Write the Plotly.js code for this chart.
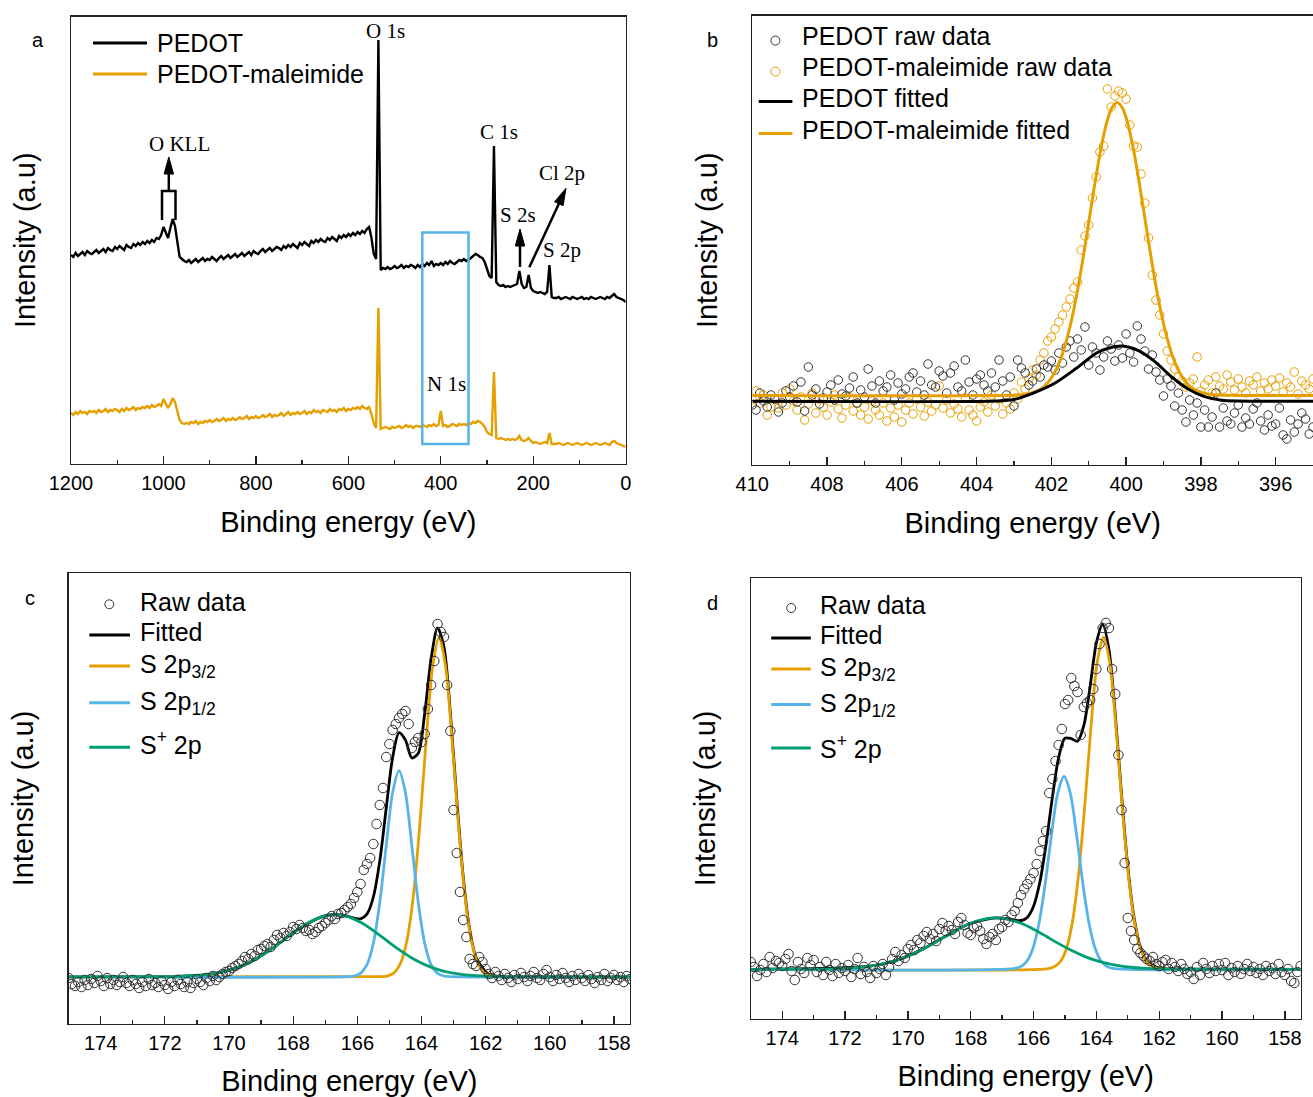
<!DOCTYPE html>
<html><head><meta charset="utf-8">
<script src="https://cdn.plot.ly/plotly-3.0.1.min.js"></script>
<style>html,body{margin:0;padding:0;background:#fff;}#chart{width:1313px;height:1097px;}</style>
</head><body><div id="chart"></div>
<script>
// ---------- Panel a : survey spectra (BE grid 1200 -> 0 eV, step 5 eV) ----------
const aGridStart = 1200, aGridStop = 0, aGridStep = 5;
const aPEDOT = [
209,207,211,208,210,212,209,213,211,210,
212,214,211,213,215,212,216,214,213,217,
215,218,216,214,219,217,216,220,218,221,
219,222,220,223,221,224,222,226,225,229,
237,231,226,236,245,238,220,207,205,203,
202,204,201,203,205,202,204,206,203,205,
204,207,205,203,206,208,205,207,209,206,
208,210,207,209,211,208,210,212,209,213,
211,210,213,215,212,214,216,213,215,217,
216,214,218,216,219,217,220,218,216,221,
219,222,220,218,223,221,224,222,225,223,
222,226,224,227,225,223,228,226,229,227,
230,228,231,229,232,230,233,231,235,237,
226,210,205,424,194,196,195,197,195,196,
198,196,197,199,196,198,197,199,198,196,
199,197,200,198,201,199,203,198,200,199,
201,199,202,200,203,201,200,202,204,203,
205,203,204,206,208,210,209,207,206,202,
195,188,186,318,182,179,178,179,177,178,
177,178,179,180,193,180,176,177,189,176,
173,172,171,172,171,170,172,199,167,166,
166,167,165,166,167,166,165,167,166,165,
166,167,165,166,165,167,166,165,166,167,
166,165,167,166,168,170,167,166,165,164,
162];
const aMaleimide = [
51,49,52,50,53,51,52,50,53,52,
53,51,54,52,53,55,52,54,53,55,
54,52,55,53,56,54,55,57,54,56,
55,57,56,58,56,59,57,58,60,58,
65,61,56,60,66,62,52,44,41,40,
41,40,42,41,43,40,42,41,43,42,
44,42,43,45,43,44,46,43,45,44,
46,44,45,47,45,46,48,45,47,46,
48,46,47,49,47,48,50,47,49,48,
49,51,48,50,52,49,51,50,52,50,
51,53,50,52,51,54,52,53,51,54,
53,52,55,53,54,52,55,54,56,53,
55,54,56,55,57,55,58,56,55,57,
50,41,36,156,35,36,37,36,35,37,
36,37,38,36,37,39,37,38,36,38,
38,37,39,38,37,39,38,40,38,39,
53,38,39,37,38,40,39,38,40,39,
40,39,41,40,42,41,43,42,40,37,
32,30,29,92,26,25,26,25,24,25,
24,25,24,25,28,24,23,24,26,23,
21,22,21,20,21,22,21,31,20,20,
20,21,20,19,20,21,20,19,20,21,
20,19,20,21,20,19,20,21,20,19,
20,21,20,19,22,23,21,20,19,18,
17];
const aPeakLabels = ['O 1s','C 1s','O KLL','S 2s','Cl 2p','S 2p','N 1s'];
const aSeriesNames = ['PEDOT','PEDOT-maleimide'];
const aBoxBE = [440, 340];   // highlighted N 1s window (eV)

// ---------- Panel b : N 1s (BE grid 410 -> 395 eV, step 0.1 eV) ----------
const bGridStart = 410, bGridStop = 395, bGridStep = 0.1;
const bPEDOTraw = [
60,55,72,64,58,70,66,53,62,74,
68,79,63,83,54,98,70,76,61,67,
73,80,65,85,71,69,77,88,62,75,
68,96,79,62,84,74,78,90,65,82,
71,76,88,92,73,84,70,101,80,78,
94,89,72,92,99,78,74,105,83,70,
86,90,80,74,92,78,105,84,70,88,
59,105,97,92,80,84,96,88,100,98,
104,95,112,102,118,124,108,126,115,138,
100,118,112,95,108,124,116,104,120,107,
131,112,103,139,126,114,96,110,93,85,
69,86,79,59,72,55,43,65,50,62,
38,55,38,48,72,38,57,44,41,52,
60,38,47,41,56,62,44,35,50,39,
41,57,30,26,45,33,41,52,46,31,38];
const bMaleimideRaw = [
65,74,62,70,50,58,66,57,72,60,
76,64,55,68,45,61,72,52,66,58,
50,63,70,56,47,60,68,54,62,50,
58,46,64,55,50,62,44,57,48,60,
43,55,62,51,66,58,49,63,54,60,
79,57,65,52,61,56,48,67,55,50,
44,58,63,53,70,59,66,51,62,56,
72,66,83,76,86,95,90,105,112,124,
128,136,143,150,158,166,177,183,215,229,
240,267,288,313,319,376,358,369,374,372,
366,340,319,318,291,262,227,190,165,150,
131,114,105,96,88,84,78,82,86,108,
74,80,85,72,88,79,76,90,83,75,
86,78,72,84,80,88,74,82,76,85,
79,87,73,82,78,93,71,84,80,76,86];
const bMaleimideFitX = [410,402.94,402.64,402.34,402.19,402.04,401.89,401.74,401.59,401.44,401.29,401.14,400.99,400.84,400.69,400.54,400.39,400.24,400.09,399.94,399.79,399.64,399.49,399.34,399.19,399.04,398.89,398.74,398.59,398.44,398.29,398.14,397.84,397.54,395];
const bMaleimideFitY = [69.6,70.0,71.1,74.8,78.7,84.8,94.0,107.1,125.1,148.2,176.6,209.4,244.8,280.4,313.0,339.3,356.4,362.4,356.4,339.3,313.0,280.4,244.8,209.4,176.6,148.2,125.1,107.1,94.0,84.8,78.7,74.8,71.1,70.0,69.6];
const bPEDOTFitX = [410,403.5,403.0,402.45,401.9,401.34,400.79,400.45,400.1,399.67,399.23,398.78,398.34,397.9,397.45,397.0,395];
const bPEDOTFitY = [63.8,64.0,65.5,72.4,82,96.5,112,117,119,114.4,103.4,88,76,68.3,64.8,64.0,63.8];
const bLegend = ['PEDOT raw data','PEDOT-maleimide raw data','PEDOT fitted','PEDOT-maleimide fitted'];

// ---------- Panels c, d : S 2p (BE grid 175 -> 157.5 eV, step 0.1 eV) ----------
const sGridStart = 175, sGridStop = 157.5, sGridStep = 0.1;
const cRaw = [
46,40,38,42,37,44,39,45,41,48,
43,38,46,40,44,39,42,47,41,38,
44,40,36,42,38,45,39,41,37,43,
39,35,42,38,44,40,37,42,36,41,
45,42,39,46,43,48,44,47,50,52,
53,56,58,60,63,67,65,70,68,74,
75,78,80,77,84,89,86,91,88,92,
97,95,99,96,93,94,90,92,96,98,
101,104,108,105,110,111,114,117,120,126,
132,140,154,160,166,180,200,219,236,267,
280,294,300,306,310,313,300,276,282,286,
282,290,315,339,363,400,392,387,339,293,
214,171,132,104,87,65,60,58,67,62,
55,50,46,52,48,44,50,46,42,49,
45,51,47,43,48,52,46,44,50,54,
47,43,49,45,51,46,42,48,44,50,
46,43,49,45,41,47,44,50,43,46,
49,44,47,42,48,45];
const cFitX = [175,171.1,170.3,169.5,168.7,167.9,167.1,166.7,166.3,166.1,165.9,165.7,165.5,165.3,165.1,164.9,164.7,164.5,164.3,164.1,163.9,163.7,163.5,163.3,163.1,162.9,162.7,162.5,162.3,161.9,161.5,157.5];
const cFitY = [47.2,48.3,51.4,59.4,74.3,93.4,107.4,109.5,107.6,105.8,105.2,109.9,127.0,163.1,215.6,266.3,291.3,283.9,266.0,270.7,310.5,365.1,396.2,377.1,311.1,224.7,147.7,95.2,66.7,49.4,47.6,47.2];
const c32X = [175,165.45,165.25,165.05,164.85,164.65,164.45,164.25,164.05,163.85,163.65,163.45,163.25,163.05,162.85,162.65,162.45,162.25,162.05,161.85,161.65,161.45,157.5];
const c32Y = [47.2,47.3,47.4,48.2,51.4,61,84,129.3,200,285.5,358,387,358,285.5,200,129.3,84,61,51.4,48.2,47.4,47.3,47.2];
const c12X = [175,166.3,166.1,165.9,165.7,165.5,165.3,165.1,164.9,164.7,164.5,164.3,164.1,163.9,163.7,163.5,163.3,163.1,157.5];
const c12Y = [47.2,47.3,48.0,50.7,59.3,80.8,121.5,178.2,231.3,253.4,231.3,178.2,121.5,80.8,59.3,50.7,48.0,47.3,47.2];
const cSpX = [175,171.9,171.5,171.1,170.7,170.3,169.9,169.5,169.1,168.7,168.3,167.9,167.5,167.1,166.7,166.3,165.9,165.5,165.1,164.7,164.3,163.9,163.5,163.1,162.7,162.3,161.9,161.5,157.5];
const cSpY = [47.2,47.4,47.7,48.3,49.4,51.4,54.6,59.4,66.0,74.3,83.8,93.4,101.7,107.4,109.5,107.4,101.7,93.4,83.8,74.3,66.0,59.4,54.6,51.4,49.4,48.3,47.7,47.4,47.2];

const dRaw = [
57,52,43,49,55,47,62,51,58,56,
53,60,65,48,39,57,50,46,61,54,
59,47,52,44,57,49,43,55,46,51,
48,54,42,50,61,45,52,47,41,53,
46,50,55,44,52,60,67,58,64,61,
70,74,69,79,76,83,87,80,85,78,
90,96,88,93,89,85,97,101,94,86,
84,91,93,88,80,75,82,85,79,90,
92,99,97,104,108,116,124,130,135,140,
146,155,168,178,188,226,240,258,274,290,
315,319,341,333,327,284,312,316,319,330,
350,375,391,396,391,350,325,264,209,156,
101,88,79,70,66,63,60,58,62,55,
53,57,59,50,56,52,48,55,50,45,
47,40,52,44,56,50,46,53,48,55,
49,56,44,51,47,53,45,50,55,48,
52,46,50,44,53,48,51,45,55,47,
44,50,38,36,47,53];
const dFitX = [175,171.2,170.4,169.6,168.8,168.0,167.2,166.8,166.4,166.2,166.0,165.8,165.6,165.4,165.2,165.0,164.8,164.6,164.4,164.2,164.0,163.8,163.6,163.4,163.2,163.0,162.8,162.6,162.4,162.0,161.6,157.5];
const dFitY = [49.7,52.9,58.4,68.7,82.7,95.7,101.1,99.8,98.5,101.6,112.7,136.7,175.1,221.9,261.7,280.8,280.4,277.8,293.5,332.5,376.1,394.8,369.6,305.0,224.5,152.1,101.1,72.0,58.3,50.8,50.0,49.7];
const d32X = [175,165.575,165.375,165.175,164.975,164.775,164.575,164.375,164.175,163.975,163.775,163.575,163.375,163.175,162.975,162.775,162.575,162.375,162.175,161.975,157.5];
const d32Y = [49.7,50.2,51.7,56.3,68.3,94.7,142.1,211.4,290.9,356.4,381.9,356.4,290.9,211.4,142.1,94.7,68.3,56.3,51.7,50.2,49.7];
const d12X = [175,166.63,166.43,166.23,166.03,165.83,165.63,165.43,165.23,165.03,164.83,164.63,164.43,164.23,164.03,163.83,163.63,163.43,157.5];
const d12Y = [49.7,50.3,52.0,57.1,69.8,95.0,135.1,183.9,225.8,242.5,225.8,183.9,135.1,95.0,69.8,57.1,52.0,50.3,49.7];
const dSpX = [175,172.8,172.4,172.0,171.6,171.2,170.8,170.4,170.0,169.6,169.2,168.8,168.4,168.0,167.6,167.2,166.8,166.4,166.0,165.6,165.2,164.8,164.4,164.0,163.6,163.2,162.8,162.4,162.0,161.6,157.5];
const dSpY = [49.7,49.9,50.2,50.7,51.5,52.9,55.2,58.4,62.9,68.7,75.4,82.7,89.8,95.7,99.7,101.1,99.7,95.7,89.8,82.7,75.4,68.7,62.9,58.4,55.2,52.9,51.5,50.7,50.2,49.9,49.7];
const sLegend = ['Raw data','Fitted','S 2p<sub>3/2</sub>','S 2p<sub>1/2</sub>','S<sup>+</sup> 2p'];

// ---------- helpers ----------
const W = 1313, H = 1097;
const P = x => x / W, Q = y => 1 - y / H;
const ORANGE = '#E69F00', BLUE = '#56B4E9', GREEN = '#009E73', BLACK = '#000000', GREY = '#333333', AX = '#222222';
const SANS = 'Arial, "Liberation Sans", sans-serif';
const SERIF = '"Times New Roman", "Liberation Serif", serif';
function grid(start, stop, step) {
  const n = Math.round(Math.abs(start - stop) / step), out = [];
  for (let i = 0; i <= n; i++) out.push(+(start - i * step).toFixed(3));
  return out;
}
const aX = grid(aGridStart, aGridStop, aGridStep);
const bX = grid(bGridStart, bGridStop, bGridStep);
const sX = grid(sGridStart, sGridStop, sGridStep);

function line(x, y, color, w, xa, ya, shape) {
  return {type: 'scatter', mode: 'lines', x, y, xaxis: xa, yaxis: ya,
    line: {color, width: w, shape: shape || 'linear', smoothing: 0.8}, hoverinfo: 'skip'};
}
function pts(x, y, color, size, xa, ya) {
  return {type: 'scatter', mode: 'markers', x, y, xaxis: xa, yaxis: ya,
    marker: {symbol: 'circle-open', size, color, line: {color, width: 1}}, hoverinfo: 'skip'};
}

const traces = [
  line(aX, aPEDOT, BLACK, 2.4, 'x', 'y'),
  line(aX, aMaleimide, ORANGE, 2.4, 'x', 'y'),

  pts(bX, bMaleimideRaw, ORANGE, 8.5, 'x2', 'y2'),
  pts(bX, bPEDOTraw, GREY, 8.5, 'x2', 'y2'),
  line(bMaleimideFitX, bMaleimideFitY, ORANGE, 3, 'x2', 'y2', 'spline'),
  line(bPEDOTFitX, bPEDOTFitY, BLACK, 3, 'x2', 'y2', 'spline'),

  line(cFitX, cFitY, BLACK, 2.8, 'x3', 'y3', 'spline'),
  line(c32X, c32Y, ORANGE, 2.8, 'x3', 'y3', 'spline'),
  line(c12X, c12Y, BLUE, 2.8, 'x3', 'y3', 'spline'),
  line(cSpX, cSpY, GREEN, 2.8, 'x3', 'y3', 'spline'),
  pts(sX, cRaw, GREY, 9.5, 'x3', 'y3'),

  line(dFitX, dFitY, BLACK, 2.8, 'x4', 'y4', 'spline'),
  line(d32X, d32Y, ORANGE, 2.8, 'x4', 'y4', 'spline'),
  line(d12X, d12Y, BLUE, 2.8, 'x4', 'y4', 'spline'),
  line(dSpX, dSpY, GREEN, 2.8, 'x4', 'y4', 'spline'),
  pts(sX, dRaw, GREY, 9.5, 'x4', 'y4')
];

function xax(l, r, range, dtick, minor, anchor, standoff) {
  return {domain: [P(l), P(r)], range, anchor, showgrid: false, zeroline: false,
    showline: true, linecolor: AX, linewidth: 1.3, mirror: true,
    ticks: 'inside', ticklen: 8, tickwidth: 1.3, tickcolor: AX, tick0: 0, dtick,
    ticklabelstandoff: 1,
    tickfont: {family: SANS, size: 20, color: '#000'},
    minor: {ticks: 'inside', ticklen: 4, tickwidth: 1.3, tickcolor: AX, tick0: 0, dtick: minor},
    title: {text: 'Binding energy (eV)', font: {family: SANS, size: 29, color: '#000'}, standoff},
    fixedrange: true};
}
function yax(top, bottom, range, anchor) {
  return {domain: [Q(bottom), Q(top)], range, anchor, showgrid: false, zeroline: false,
    showline: true, linecolor: AX, linewidth: 1.3, mirror: true,
    ticks: '', showticklabels: false,
    title: {text: 'Intensity (a.u)', font: {family: SANS, size: 29, color: '#000'}, standoff: 25},
    fixedrange: true};
}

const shapes = [];
const ann = [];
function legLine(x0, x1, y, color) {
  shapes.push({type: 'line', xref: 'paper', yref: 'paper', x0: P(x0), x1: P(x1), y0: Q(y), y1: Q(y), line: {color, width: 3}});
}
function legCircle(x, y, color) {
  shapes.push({type: 'circle', xref: 'paper', yref: 'paper', xsizemode: 'pixel', ysizemode: 'pixel',
    xanchor: P(x), yanchor: Q(y), x0: -4.5, x1: 4.5, y0: -4.5, y1: 4.5, line: {color, width: 1}});
}
function text(t, x, y, size, family, xanchor) {
  ann.push({text: t, xref: 'paper', yref: 'paper', x: P(x), y: Q(y), xanchor: xanchor || 'left', yanchor: 'middle',
    showarrow: false, font: {family: family || SANS, size, color: '#000'}});
}
function arrowUp(x, yTail, yTip) {
  shapes.push({type: 'line', xref: 'paper', yref: 'paper', x0: P(x), x1: P(x), y0: Q(yTail), y1: Q(yTip + 15), line: {color: BLACK, width: 2.5}});
  shapes.push({type: 'path', xref: 'paper', yref: 'paper', fillcolor: BLACK, line: {color: BLACK, width: 1},
    path: `M${P(x)},${Q(yTip)} L${P(x - 4.7)},${Q(yTip + 17)} L${P(x + 4.7)},${Q(yTip + 17)} Z`});
}

// panel letters
text('a', 38, 40, 20, SANS, 'center');
text('b', 712, 40, 20, SANS, 'center');
text('c', 30, 598, 20, SANS, 'center');
text('d', 712, 603, 20, SANS, 'center');

// panel a legend
legLine(93, 147, 43, BLACK); text(aSeriesNames[0], 155, 43, 25);
legLine(93, 147, 74, ORANGE); text(aSeriesNames[1], 155, 74, 25);

// panel a peak labels
const aLabelPos = [[385, 31], [499, 132], [179, 144], [518, 215], [562, 173], [562, 250], [446, 384]];
aPeakLabels.forEach((t, i) => text(t, aLabelPos[i][0], aLabelPos[i][1], 21, SERIF, 'center'));

// panel a arrows and bracket
shapes.push({type: 'path', xref: 'paper', yref: 'paper', line: {color: BLACK, width: 2.5},
  path: `M${P(162)},${Q(220)} L${P(162)},${Q(191)} L${P(175.5)},${Q(191)} L${P(175.5)},${Q(220)}`});
arrowUp(168.8, 191, 157);
arrowUp(520, 267, 229);
(function () {
  const tx = 529.3, ty = 267.3, hx = 566, hy = 188.3;
  const dx = hx - tx, dy = hy - ty, L = Math.hypot(dx, dy), ux = dx / L, uy = dy / L;
  const bx = hx - 17 * ux, by = hy - 17 * uy, nx = -uy, ny = ux;
  shapes.push({type: 'line', xref: 'paper', yref: 'paper', x0: P(tx), y0: Q(ty), x1: P(hx - 15 * ux), y1: Q(hy - 15 * uy), line: {color: BLACK, width: 2.5}});
  shapes.push({type: 'path', xref: 'paper', yref: 'paper', fillcolor: BLACK, line: {color: BLACK, width: 1},
    path: `M${P(hx)},${Q(hy)} L${P(bx + 4.7 * nx)},${Q(by + 4.7 * ny)} L${P(bx - 4.7 * nx)},${Q(by - 4.7 * ny)} Z`});
})();
// N 1s window
shapes.push({type: 'rect', xref: 'x', yref: 'y', x0: aBoxBE[0], x1: aBoxBE[1], y0: 20, y1: 231.5, line: {color: BLUE, width: 2.5}});

// panel b legend
legCircle(775.4, 40.6, GREY); text(bLegend[0], 799.5, 36.2, 25);
legCircle(775.4, 71.6, ORANGE); text(bLegend[1], 799.5, 67.2, 25);
legLine(758.7, 792.4, 101.6, BLACK); text(bLegend[2], 799.5, 98.2, 25);
legLine(758.7, 792.4, 133.6, ORANGE); text(bLegend[3], 799.5, 130.2, 25);

// panel c legend
legCircle(109.3, 604.3, GREY); text(sLegend[0], 137.7, 601.7, 25);
legLine(89.3, 130, 635, BLACK); text(sLegend[1], 137.7, 631.7, 25);
legLine(89.3, 130, 666, ORANGE); text(sLegend[2], 137.7, 666, 25);
legLine(89.3, 130, 702.7, BLUE); text(sLegend[3], 137.7, 703, 25);
legLine(89.3, 130, 747.3, GREEN); text(sLegend[4], 137.7, 743.3, 25);

// panel d legend
legCircle(791.2, 608, GREY); text(sLegend[0], 818, 604.5, 25);
legLine(771.2, 810.8, 638, BLACK); text(sLegend[1], 818, 635, 25);
legLine(771.2, 810.8, 669, ORANGE); text(sLegend[2], 818, 669, 25);
legLine(771.2, 810.8, 704.5, BLUE); text(sLegend[3], 818, 705, 25);
legLine(771.2, 810.8, 748, GREEN); text(sLegend[4], 818, 746.7, 25);

const layout = {
  width: W, height: H, margin: {l: 0, r: 0, t: 0, b: 0},
  paper_bgcolor: '#ffffff', plot_bgcolor: '#ffffff', showlegend: false,
  font: {family: SANS, color: '#000'},
  xaxis: xax(71, 625.7, [1200, 0], 200, 100, 'y', 18),
  yaxis: yax(16.5, 464, [0, 447.5], 'x'),
  xaxis2: xax(752.3, 1313, [410, 395], 2, 1, 'y2', 18),
  yaxis2: yax(15.5, 465, [0, 449.5], 'x2'),
  xaxis3: xax(68.6, 630, [175, 157.5], 2, 1, 'y3', 20),
  yaxis3: yax(573, 1024, [0, 451], 'x3'),
  xaxis4: xax(750.8, 1300.6, [175, 157.5], 2, 1, 'y4', 17),
  yaxis4: yax(577.8, 1019, [0, 441.2], 'x4'),
  shapes, annotations: ann
};
Plotly.newPlot('chart', traces, layout, {staticPlot: true, displayModeBar: false});
</script></body></html>
